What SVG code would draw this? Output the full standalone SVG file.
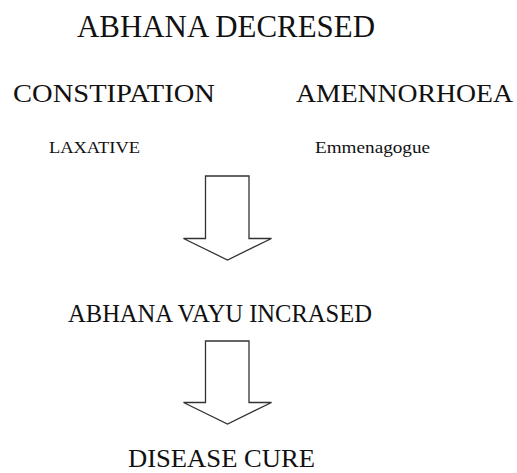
<svg xmlns="http://www.w3.org/2000/svg" width="517" height="473" viewBox="0 0 517 473">
<style>
text{font-family:"Liberation Serif","Times New Roman",serif;fill:#111;}
.big{font-size:31px;}
.mid{font-size:26px;}
.sm{font-size:17px;}
.arrow{fill:#fff;stroke:#333;stroke-width:1.3;stroke-linejoin:miter;}
</style>
<rect width="517" height="473" fill="#fff"/>
<g id="n-abhana-decresed"><text class="big" x="77" y="37" textLength="298" lengthAdjust="spacingAndGlyphs">ABHANA DECRESED</text></g>
<g id="n-constipation"><text class="mid" x="13" y="102" textLength="202" lengthAdjust="spacingAndGlyphs">CONSTIPATION</text></g>
<g id="n-amennorhoea"><text class="mid" x="296" y="102" textLength="217" lengthAdjust="spacingAndGlyphs">AMENNORHOEA</text></g>
<g id="n-laxative"><text class="sm" x="49" y="153" textLength="91" lengthAdjust="spacingAndGlyphs">LAXATIVE</text></g>
<g id="n-emmenagogue"><text class="sm" x="315" y="153" textLength="115" lengthAdjust="spacingAndGlyphs">Emmenagogue</text></g>
<g id="n-vayu"><text class="mid" x="68" y="322" textLength="304" lengthAdjust="spacingAndGlyphs">ABHANA VAYU INCRASED</text></g>
<g id="n-cure"><text class="mid" x="128" y="467" font-size="25" textLength="187" lengthAdjust="spacingAndGlyphs">DISEASE CURE</text></g>
<g id="connectors">
<polygon class="arrow" points="205.5,176 249,176 249,238.5 271.5,238.5 227.5,260 183.5,238.5 205.5,238.5"/>
<polygon class="arrow" points="205.5,341 249,341 249,402.5 271.5,402.5 227.5,424 183.5,402.5 205.5,402.5"/>
</g>
</svg>
